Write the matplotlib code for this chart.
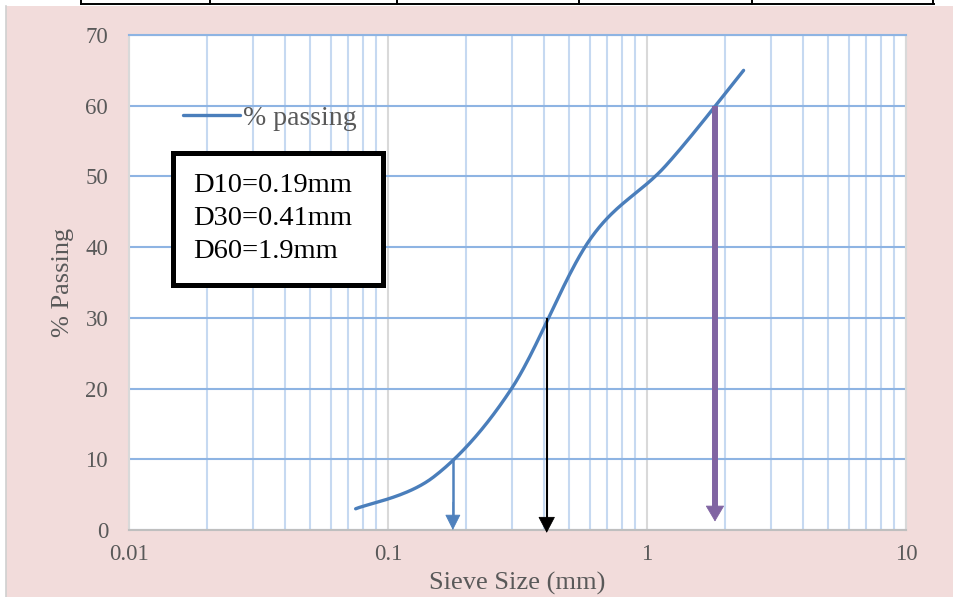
import numpy as np
import matplotlib
matplotlib.use("Agg")
import matplotlib.pyplot as plt
from matplotlib.patches import Rectangle
from matplotlib.lines import Line2D

# ---------------- data ----------------
sieve_mm = [0.075, 0.15, 0.3, 0.6, 1.18, 2.36]
pct_passing = [3, 7.5, 20, 41, 51.5, 65]
series_name = "% passing"

d_labels = ["D10=0.19mm", "D30=0.41mm", "D60=1.9mm"]
d_arrow_x = [0.178, 0.41, 1.83]          # where the arrows are drawn
d_arrow_top = [10, 30, 60]
d_arrow_tip = [0, -0.4, 1.2]
d_arrow_colors = ["#4F81BD", "#000000", "#8064A2"]

y_ticks = [0, 10, 20, 30, 40, 50, 60, 70]
x_ticks = [0.01, 0.1, 1, 10]
x_ticklabels = ["0.01", "0.1", "1", "10"]
x_title = "Sieve Size (mm)"
y_title = "% Passing"

# ---------------- style ----------------
FONT = "Liberation Serif"
GRAY_TXT = "#595959"
PINK = "#F2DCDB"

W, H = 954, 597
fig = plt.figure(figsize=(W / 100, H / 100), dpi=100)
fig.patch.set_facecolor("white")

# pink chart area background
fig.add_artist(Rectangle((6 / W, 0), 1 - 6 / W, (H - 6) / H, transform=fig.transFigure,
                         facecolor=PINK, edgecolor="none", zorder=-10))
fig.add_artist(Line2D([6.5 / W, 6.5 / W], [0, (H - 6) / H], transform=fig.transFigure,
                      color="#D0D0D0", lw=1.2, zorder=-9))

# remnant of a table border at the top
top_y = (H - 3.5) / H
fig.add_artist(Line2D([81 / W, 934 / W], [top_y, top_y], transform=fig.transFigure,
                      color="black", lw=1.4))
for xv in [81, 210, 397, 579, 752, 933.5]:
    fig.add_artist(Line2D([xv / W, xv / W], [top_y, 1], transform=fig.transFigure,
                          color="black", lw=1.4))

ax = fig.add_axes([129 / W, (H - 530) / H, 777 / W, 495 / H])
ax.set_facecolor("white")
ax.set_xscale("log")
ax.set_xlim(0.01, 10)
ax.set_ylim(0, 70)

# grid
ax.set_axisbelow(True)
ax.grid(True, which="major", axis="y", color="#8EB4E3", lw=1.5)
ax.grid(True, which="major", axis="x", color="#D9D9D9", lw=1.5)
ax.grid(True, which="minor", axis="x", color="#C6D9F1", lw=1.5)
ax.xaxis.set_minor_locator(matplotlib.ticker.LogLocator(base=10, subs=np.arange(2, 10)))
ax.xaxis.set_minor_formatter(matplotlib.ticker.NullFormatter())

for side, col in [("left", "#D9D9D9"), ("right", "#D9D9D9"), ("top", "#8EB4E3"), ("bottom", "#BFBFBF")]:
    ax.spines[side].set_color(col)
    ax.spines[side].set_linewidth(1.5)

ax.set_yticks(y_ticks)
ax.set_yticklabels([str(v) for v in y_ticks])
ax.set_xticks(x_ticks)
ax.set_xticklabels(x_ticklabels)
ax.tick_params(axis="both", which="both", length=0, labelcolor=GRAY_TXT, labelsize=16.5)
ax.tick_params(axis="y", pad=15)
ax.tick_params(axis="x", pad=10)
for lab in ax.get_xticklabels() + ax.get_yticklabels():
    lab.set_fontfamily(FONT)

ax.set_xlabel(x_title, fontfamily=FONT, fontsize=19, color=GRAY_TXT, va="center")
ax.xaxis.set_label_coords(0.5, -0.107)
ax.set_ylabel(y_title, fontfamily=FONT, fontsize=19, color=GRAY_TXT, va="center", ha="center")
ax.yaxis.set_label_coords(-0.085, 0.5)

# ---------- smoothed line (Excel-like Catmull-Rom through the data points) ----------
sx = 259.0   # px per decade
sy = 7.07    # px per percent
P = np.column_stack([np.log10(sieve_mm) * sx, np.array(pct_passing, float) * sy])
Pext = np.vstack([P[0], P, P[-1]])
curve = []
t = np.linspace(0, 1, 40)
for i in range(1, len(Pext) - 2):
    p0, p1, p2, p3 = Pext[i - 1], Pext[i], Pext[i + 1], Pext[i + 2]
    c1 = p1 + (p2 - p0) / 6.0
    c2 = p2 - (p3 - p1) / 6.0
    seg = ((1 - t) ** 3)[:, None] * p1 + (3 * (1 - t) ** 2 * t)[:, None] * c1 \
        + (3 * (1 - t) * t ** 2)[:, None] * c2 + (t ** 3)[:, None] * p2
    curve.append(seg if i == 1 else seg[1:])
curve = np.vstack(curve)
ax.plot(10 ** (curve[:, 0] / sx), curve[:, 1] / sy, color="#4A7EBB", lw=2.4,
        solid_capstyle="round", label=series_name, zorder=3)

# ---------- arrows (shaft line + sharp triangular head) ----------
arrow_specs = [
    dict(lw=1.8, hl=1.0, hw=0.5),
    dict(lw=1.5, hl=1.05, hw=0.55),
    dict(lw=4.3, hl=1.05, hw=0.62),
]
for xv, top, tip, col, sp in zip(d_arrow_x, d_arrow_top, d_arrow_tip, d_arrow_colors, arrow_specs):
    head_len_pct = sp["hl"] * 10 / 0.72 / sy   # head length in % units
    ax.plot([xv, xv], [top, tip + head_len_pct * 0.8], color=col, lw=sp["lw"],
            solid_capstyle="butt", zorder=4, clip_on=False)
    ax.annotate("", xy=(xv, tip), xytext=(xv, tip + head_len_pct * 2), annotation_clip=False,
                arrowprops=dict(arrowstyle=f"-|>,head_length={sp['hl']},head_width={sp['hw']}",
                                color=col, lw=0.6, shrinkA=0, shrinkB=0,
                                mutation_scale=10), zorder=4)

# ---------- legend ----------
leg = ax.legend(loc="center left", bbox_to_anchor=(0.0695, 0.832), frameon=False,
                handlelength=2.05, handletextpad=0.1, borderpad=0, borderaxespad=0,
                prop={"family": FONT, "size": 20})
for txt in leg.get_texts():
    txt.set_color(GRAY_TXT)

# ---------- D-values text box ----------
ax.add_patch(Rectangle((0.0566, 0.4949), 0.2703, 0.2667, transform=ax.transAxes,
                       facecolor="white", edgecolor="black", lw=3.6, zorder=5))
for lbl, yb in zip(d_labels, [191.7, 225.0, 258.5]):
    ax.text(0.0824, (530 - yb) / 495, lbl, transform=ax.transAxes, fontfamily=FONT,
            fontsize=20.5, color="black", va="baseline", ha="left", zorder=6)

fig.savefig("out.png", dpi=100, facecolor=fig.get_facecolor())
